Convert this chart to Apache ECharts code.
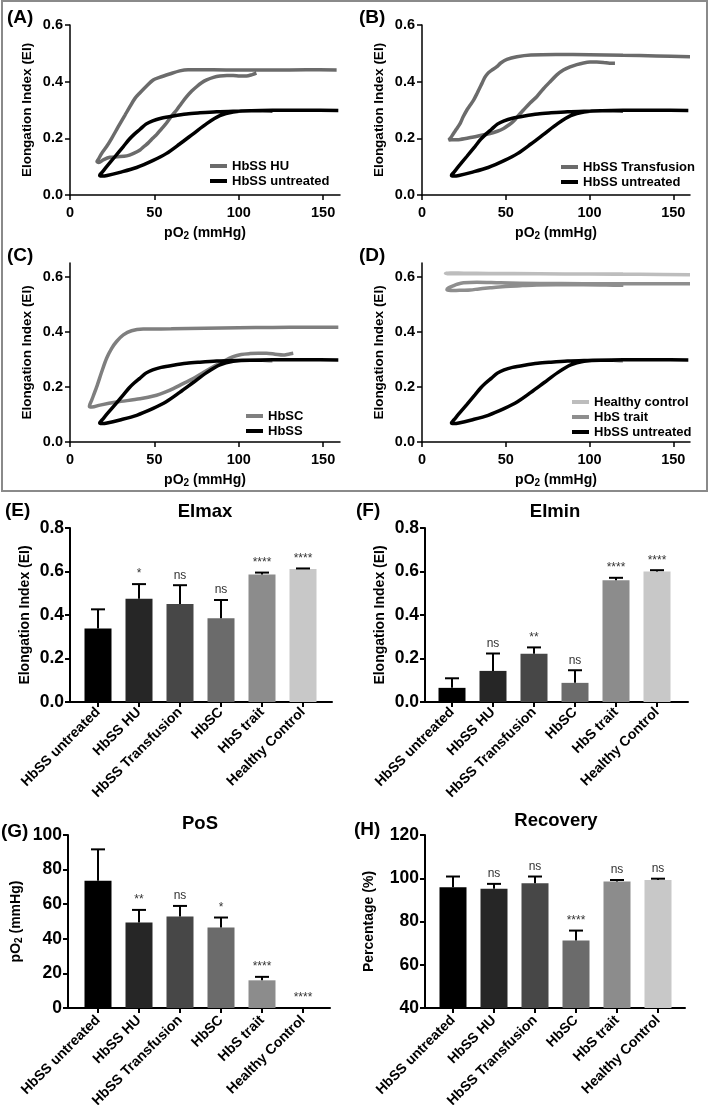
<!DOCTYPE html>
<html><head><meta charset="utf-8">
<script src="https://cdn.jsdelivr.net/npm/echarts@6/dist/echarts.min.js"></script>
<style>html,body{margin:0;padding:0;background:#fff}#c{width:709px;height:1105px}</style>
</head><body><div id="c"></div>
<script>
const FONT = '"Liberation Sans", Arial, Helvetica, sans-serif';

// ---------- Panels A–D : EI vs pO2 loops, [pO2, EI] in path order ----------
const hbssUntreated = [[159,0.298],[140,0.299],[120,0.299],[96.7,0.296],[86.9,0.294],[77,0.29],[69.1,0.286],[61.2,0.279],[54,0.271],[49,0.262],[45,0.25],[41.5,0.232],[38,0.214],[35,0.196],[31.6,0.171],[26.6,0.135],[21.7,0.1],[19,0.08],[17.6,0.07],[19,0.067],[22,0.069],[29.6,0.08],[39.5,0.097],[49.3,0.122],[57,0.146],[65,0.18],[73,0.216],[81,0.252],[88.8,0.28],[96.7,0.293],[106.6,0.297],[114,0.297],[120,0.296]];
const hbssHU = [[158,0.441],[140,0.442],[120,0.441],[100,0.441],[85,0.442],[70,0.442],[65,0.438],[59,0.427],[53,0.415],[49.3,0.406],[45.4,0.385],[41.5,0.361],[38.5,0.341],[35.5,0.312],[32.6,0.282],[28.6,0.241],[24.7,0.2],[21.7,0.171],[18.8,0.147],[16.8,0.126],[16,0.118],[17,0.115],[20,0.125],[23.7,0.133],[28,0.135],[33.6,0.138],[38,0.148],[41.5,0.159],[44,0.172],[46.4,0.184],[49,0.2],[51.3,0.213],[54,0.232],[57.2,0.254],[60,0.277],[63.2,0.3],[66,0.323],[69,0.346],[72,0.366],[75,0.382],[78,0.396],[81,0.406],[85,0.415],[88.8,0.42],[93,0.422],[96.7,0.422],[100.6,0.42],[104.6,0.42],[108,0.425],[110.5,0.43]];
const hbssTransfusion = [[160,0.488],[140,0.491],[120,0.493],[100,0.495],[80,0.496],[65,0.494],[56.6,0.488],[50.7,0.479],[47,0.466],[44.7,0.453],[41.5,0.44],[39.7,0.432],[37.5,0.415],[35.8,0.394],[33,0.36],[30.8,0.335],[28.5,0.315],[26.8,0.3],[24.5,0.275],[22.8,0.253],[20.5,0.232],[18.9,0.218],[16.9,0.2],[16,0.194],[19,0.195],[22.8,0.196],[30.8,0.205],[40.7,0.217],[45,0.225],[48.7,0.235],[52,0.248],[54.6,0.26],[57.5,0.28],[60.6,0.3],[64.5,0.325],[68.5,0.347],[72.5,0.375],[76.5,0.4],[80.5,0.424],[84.4,0.441],[88.4,0.452],[92.4,0.46],[96.4,0.466],[100.3,0.469],[104.3,0.469],[108.3,0.468],[112,0.465],[115.2,0.465]];
const hbsc = [[159,0.417],[140,0.417],[120,0.416],[100,0.415],[80,0.413],[60,0.411],[43.4,0.41],[36.5,0.404],[31.6,0.389],[27.6,0.365],[24.7,0.34],[21.7,0.304],[18.8,0.255],[15.8,0.2],[12.8,0.151],[11.5,0.13],[13,0.127],[17.8,0.134],[27.6,0.145],[41.5,0.157],[51.3,0.17],[56,0.18],[61.2,0.194],[67,0.212],[73,0.23],[79,0.252],[84.9,0.273],[90.8,0.293],[96.7,0.31],[101.5,0.318],[106.6,0.321],[111.5,0.322],[116.5,0.322],[121.5,0.319],[126.3,0.316],[129.5,0.319],[132.3,0.322]];
const hbsTrait = [[160,0.575],[130,0.575],[96.4,0.575],[70,0.576],[46.7,0.578],[32.8,0.58],[24.8,0.578],[21,0.573],[18.9,0.568],[15.9,0.56],[14.9,0.554],[16,0.551],[18.9,0.55],[24,0.551],[28.8,0.552],[34,0.556],[40.7,0.56],[46,0.563],[52.7,0.566],[60,0.568],[68.5,0.57],[80,0.571],[96.4,0.571],[110,0.57],[120.2,0.569]];
const healthyControl = [[160,0.607],[130,0.609],[100,0.61],[70,0.611],[40,0.612],[25,0.613],[17,0.614],[14,0.613],[17,0.611],[25,0.611],[40,0.611],[70,0.611],[100,0.61],[120,0.61]];
const pO2Ticks = [0, 50, 100, 150];
const eiTicks = [0, 0.2, 0.4, 0.6];

// ---------- Panels E–H : group bars (mean, SD, significance) ----------
const groups = ['HbSS untreated','HbSS HU','HbSS Transfusion','HbSC','HbS trait','Healthy Control'];
const eimaxMean = [0.338, 0.475, 0.451, 0.385, 0.586, 0.611];
const eimaxSD   = [0.088, 0.067, 0.086, 0.084, 0.009, 0.003];
const eimaxSig  = ['', '*', 'ns', 'ns', '****', '****'];
const eiminMean = [0.065, 0.143, 0.222, 0.088, 0.560, 0.600];
const eiminSD   = [0.044, 0.080, 0.029, 0.058, 0.011, 0.006];
const eiminSig  = ['', 'ns', '**', 'ns', '****', '****'];
const posMean   = [73.5, 49.4, 52.9, 46.5, 16.0, 0];
const posSD     = [18.2, 7.3, 6.1, 5.8, 2.0, 0];
const posSig    = ['', '**', 'ns', '*', '****', '****'];
const recMean   = [95.8, 95.2, 97.7, 71.2, 98.5, 99.2];
const recSD     = [5.0, 2.2, 3.1, 4.6, 0.7, 0.6];
const recSig    = ['', 'ns', 'ns', '****', 'ns', 'ns'];

// ---------- styles ----------
const barColors = ['#000000','#262626','#474747','#6b6b6b','#8c8c8c','#c8c8c8'];
const C = {black:'#000000', hu:'#6b6b6b', tf:'#6b6b6b', sc:'#7f7f7f', trait:'#8e8e8e', healthy:'#bdbdbd'};

const option = {animation:false, backgroundColor:'#fff', grid:[], xAxis:[], yAxis:[], series:[], legend:[], graphic:[]};
const subRich = {s:{fontSize:10, fontWeight:'bold', fontFamily:FONT, color:'#000', padding:[6,0,0,0]}};

function addLinePanel(box, yMax, list, legendPos) {
  const gi = option.grid.length;
  option.grid.push({left:box[0], top:box[1], width:box[2], height:box[3], containLabel:false, outerBoundsMode:'none'});
  option.xAxis.push({type:'value', gridIndex:gi, min:0, max:160,
    name:'pO{s|2} (mmHg)', nameLocation:'middle', nameGap:30, nameMoveOverlap:false,
    nameTextStyle:{fontFamily:FONT, fontWeight:'bold', fontSize:14, color:'#000', rich:subRich},
    axisLine:{show:true, onZero:false, lineStyle:{color:'#000', width:1.5}},
    axisTick:{show:true, customValues:pO2Ticks, length:5, lineStyle:{color:'#000', width:1.5}},
    axisLabel:{customValues:pO2Ticks, margin:10, fontFamily:FONT, fontWeight:'bold', fontSize:14.5, color:'#000'},
    splitLine:{show:false}});
  option.yAxis.push({type:'value', gridIndex:gi, min:0, max:yMax,
    name:'Elongation Index (EI)', nameLocation:'middle', nameRotate:90, nameGap:36, nameMoveOverlap:false,
    nameTextStyle:{fontFamily:FONT, fontWeight:'bold', fontSize:13.5, color:'#000'},
    axisLine:{show:true, onZero:false, lineStyle:{color:'#000', width:1.5}},
    axisTick:{show:true, customValues:eiTicks, length:5, lineStyle:{color:'#000', width:1.5}},
    axisLabel:{customValues:eiTicks, margin:7, fontFamily:FONT, fontWeight:'bold', fontSize:14.5, color:'#000', formatter:v=>v.toFixed(1)},
    splitLine:{show:false}});
  list.forEach(s => option.series.push({type:'line', name:s.name, xAxisIndex:gi, yAxisIndex:gi, data:s.data,
    symbol:'none', showSymbol:false, smooth:0.3, lineStyle:{color:s.color, width:3.5}, itemStyle:{color:s.color}}));
  option.legend.push({left:legendPos[0], top:legendPos[1], orient:'vertical', padding:0, itemGap:1,
    icon:'rect', itemWidth:17, itemHeight:4, selectedMode:false,
    data:list.slice().sort((a,b)=>a.legendOrder-b.legendOrder).map(s=>s.name),
    textStyle:{fontFamily:FONT, fontWeight:'bold', fontSize:13, color:'#000', lineHeight:14}});
}

function addBarPanel(frame, bars, yMin, yMax, interval, yName, nameGap, mean, sd, sig, fmt, catMargin) {
  const fi = option.grid.length;
  option.grid.push({left:frame[0], top:frame[1], width:frame[2], height:frame[3], containLabel:false, outerBoundsMode:'none'});
  option.xAxis.push({type:'value', gridIndex:fi, min:0, max:1, axisLine:{show:true, onZero:false, lineStyle:{color:'#000', width:2}},
    axisTick:{show:false}, axisLabel:{show:false}, splitLine:{show:false}});
  option.yAxis.push({type:'value', gridIndex:fi, min:yMin, max:yMax, interval:interval,
    name:yName, nameLocation:'middle', nameRotate:90, nameGap:nameGap, nameMoveOverlap:false,
    nameTextStyle:{fontFamily:FONT, fontWeight:'bold', fontSize:14, color:'#000', rich:subRich},
    axisLine:{show:true, onZero:false, lineStyle:{color:'#000', width:2}},
    axisTick:{show:true, length:5, lineStyle:{color:'#000', width:2}},
    axisLabel:{margin:6, fontFamily:FONT, fontWeight:'bold', fontSize:17.5, color:'#000', formatter:fmt},
    splitLine:{show:false}});
  const bi = option.grid.length;
  option.grid.push({left:bars[0], top:frame[1], width:bars[1], height:frame[3], containLabel:false, outerBoundsMode:'none'});
  option.xAxis.push({type:'category', gridIndex:bi, data:groups, axisLine:{show:false},
    axisTick:{show:true, alignWithLabel:true, length:5, lineStyle:{color:'#000', width:2}},
    axisLabel:{rotate:45, interval:0, margin:catMargin, fontFamily:FONT, fontWeight:'bold', fontSize:14, color:'#000'}});
  option.yAxis.push({type:'value', gridIndex:bi, min:yMin, max:yMax, show:false});
  option.series.push({type:'bar', xAxisIndex:bi, yAxisIndex:bi, barWidth:27, clip:true,
    data:mean.map((v,i)=>({value:v, itemStyle:{color:barColors[i]}}))});
  option.series.push({type:'custom', xAxisIndex:bi, yAxisIndex:bi, z:5, clip:false,
    data:mean.map((v,i)=>[i, v, v + sd[i]]),
    renderItem:(params, api) => {
      const i = api.value(0);
      const top = api.coord([i, api.value(1)]);
      const cap = api.coord([i, api.value(2)]);
      const ch = [];
      if (cap[1] < top[1] - 0.5) {
        ch.push({type:'line', shape:{x1:top[0], y1:top[1], x2:cap[0], y2:cap[1]}, style:{stroke:'#000', lineWidth:2}});
        ch.push({type:'line', shape:{x1:cap[0]-7, y1:cap[1], x2:cap[0]+7, y2:cap[1]}, style:{stroke:'#000', lineWidth:2}});
      }
      if (sig[i]) ch.push({type:'text', x:cap[0], y:cap[1]-4,
        style:{text:sig[i], textAlign:'center', textVerticalAlign:'bottom', font:'12px ' + FONT, fill:'#333'}});
      return {type:'group', children:ch};
    }});
}

// A–D
addLinePanel([70, 25, 270, 170], 0.6, [
  {name:'HbSS HU', data:hbssHU, color:C.hu, legendOrder:0},
  {name:'HbSS untreated', data:hbssUntreated, color:C.black, legendOrder:1}], [210, 159]);
addLinePanel([422, 25, 268, 170], 0.6, [
  {name:'HbSS Transfusion', data:hbssTransfusion, color:C.tf, legendOrder:0},
  {name:'HbSS untreated', data:hbssUntreated, color:C.black, legendOrder:1}], [561, 160]);
addLinePanel([70, 263, 270, 179], 0.65, [
  {name:'HbSC', data:hbsc, color:C.sc, legendOrder:0},
  {name:'HbSS', data:hbssUntreated, color:C.black, legendOrder:1}], [246, 409]);
addLinePanel([422, 263, 268, 179], 0.65, [
  {name:'Healthy control', data:healthyControl, color:C.healthy, legendOrder:0},
  {name:'HbS trait', data:hbsTrait, color:C.trait, legendOrder:1},
  {name:'HbSS untreated', data:hbssUntreated, color:C.black, legendOrder:2}], [572, 395]);

// E–H
const f1 = v => v.toFixed(1);
const f0 = v => String(v);
addBarPanel([70, 528, 262, 174], [77.5, 246], 0, 0.8, 0.2, 'Elongation Index (EI)', 38, eimaxMean, eimaxSD, eimaxSig, f1, 8);
addBarPanel([425, 528, 263, 174], [431.5, 246], 0, 0.8, 0.2, 'Elongation Index (EI)', 38, eiminMean, eiminSD, eiminSig, f1, 8);
addBarPanel([68, 835, 262, 173], [77.5, 246], 0, 100, 20, 'pO{s|2} (mmHg)', 44, posMean, posSD, posSig, f0, 10);
addBarPanel([425, 835, 260, 173], [432.5, 246], 40, 120, 20, 'Percentage (%)', 49, recMean, recSD, recSig, f0, 10);

// frame + titles + panel letters
option.graphic.push({type:'rect', shape:{x:2, y:1, width:705, height:490}, style:{fill:null, stroke:'#8a8a8a', lineWidth:2}, silent:true});
const texts = [
  ['(A)', 7, 8, 'left', 19], ['(B)', 359, 8, 'left', 19], ['(C)', 7, 246, 'left', 19], ['(D)', 359, 246, 'left', 19],
  ['(E)', 5, 501, 'left', 19], ['(F)', 356, 501, 'left', 19], ['(G)', 1, 822, 'left', 19], ['(H)', 354, 820, 'left', 19],
  ['EImax', 205, 502, 'center', 18.5], ['EImin', 555, 502, 'center', 18.5], ['PoS', 200, 814, 'center', 18.5], ['Recovery', 556, 811, 'center', 18.5]
];
texts.forEach(t => option.graphic.push({type:'text', x:t[1], y:t[2], silent:true,
  style:{text:t[0], textAlign:t[3], textVerticalAlign:'top', font:'bold ' + t[4] + 'px ' + FONT, fill:'#000'}}));

const chart = echarts.init(document.getElementById('c'), null, {renderer:'canvas'});
chart.setOption(option);
</script></body></html>
